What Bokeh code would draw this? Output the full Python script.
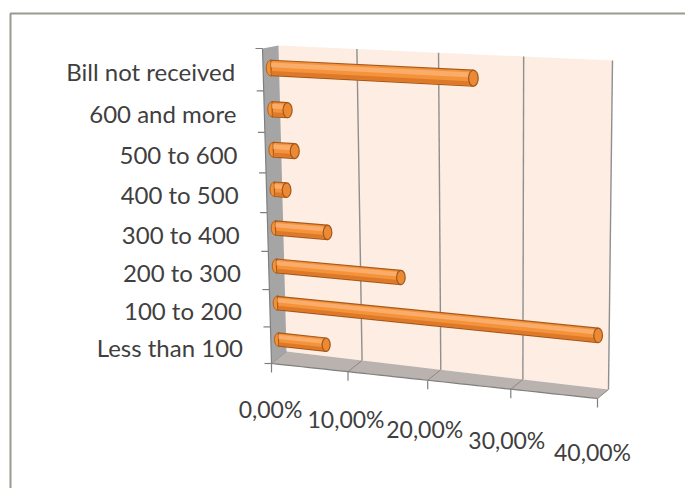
import numpy as np
from bokeh.plotting import figure
from bokeh.models import Range1d
from bokeh.core.properties import value
from bokeh.embed import file_html
from bokeh.resources import INLINE

# ---- data -------------------------------------------------------------
categories = ["Less than 100", "100 to 200", "200 to 300", "300 to 400",
              "400 to 500", "500 to 600", "600 and more", "Bill not received"]
shares = [6.3, 39.4, 16.0, 6.8, 1.6, 2.8, 2.0, 25.0]          # percent
tick_values = [0, 10, 20, 30, 40]
tick_labels = ["0,00%", "10,00%", "20,00%", "30,00%", "40,00%"]

VMAX = 40.0
N = len(categories)

# ---- 3-D box projection --------------------------------------------------
# page position of the box corners for the back (d=1) and front (d=0) planes
BACK = {"v0r0": (286, 351), "v1r0": (608, 389), "v0r1": (278, 45), "v1r1": (612, 60)}
FRONT = {"v0r0": (271, 363), "v1r0": (597, 398), "v0r1": (262, 48), "v1r1": (598, 64)}
PERSP = -0.08


def ease(t):
    t = np.asarray(t, dtype=float)
    return t * (1 + PERSP) / (1 + PERSP * t)


def plane(c, u, w):
    out = []
    for k in (0, 1):
        out.append((1 - u) * (1 - w) * c["v0r0"][k] + u * (1 - w) * c["v1r0"][k]
                   + (1 - u) * w * c["v0r1"][k] + u * w * c["v1r1"][k])
    return out


def proj(v, row, d):
    u = ease(np.asarray(v, dtype=float) / VMAX)
    w = ease(np.asarray(row, dtype=float) / N)
    xb, yb = plane(BACK, u, w)
    xf, yf = plane(FRONT, u, w)
    return xf + d * (xb - xf), yf + d * (yb - yf)


W, H = 685, 488
p = figure(width=W, height=H, x_range=Range1d(0, W), y_range=Range1d(H, 0),
           output_backend="svg", toolbar_location=None,
           x_axis_location=None, y_axis_location=None, min_border=0)
p.grid.visible = False
p.outline_line_color = None
p.background_fill_color = "white"
p.border_fill_color = "white"

# chart area frame
p.quad(left=[10], right=[W + 20], top=[13], bottom=[H + 20],
       fill_color=None, line_color="#979b8f", line_width=2)

# back wall
bx, by = proj([0, VMAX, VMAX, 0], [0, 0, N, N], 1)
p.patch(bx, by, fill_color="#fdede3", line_color=None)

# vertical gridlines on the back wall
for v in tick_values[1:]:
    gx, gy = proj([v, v], [0, N], 1)
    p.line(gx, gy, line_color="#8f8f8f", line_width=1.4)

# floor
fx, fy = proj([0, VMAX, VMAX, 0], [0, 0, 0, 0], np.array([0, 0, 1, 1]))
p.patch(fx, fy, fill_color="#b9b2af", line_color=None)
for v in tick_values:
    lx, ly = proj([v, v], [0, 0], np.array([1, 0]))
    p.line(lx, ly, line_color="#8c8686", line_width=1)

# left wall
wx, wy = proj([0, 0, 0, 0], [0, N, N, 0], np.array([0, 0, 1, 1]))
p.patch(wx, wy, fill_color="#a5a5a5", line_color=None)

# value axis along the front edge of the floor
ax_v = np.linspace(0, VMAX, 41)
axx, axy = proj(ax_v, np.zeros_like(ax_v), 0)
p.line(axx, axy, line_color="#7f7f7f", line_width=1.2)
tv = np.asarray(tick_values, dtype=float)
tx, ty = proj(tv, np.zeros_like(tv), 0)
p.segment(x0=tx, y0=ty, x1=tx, y1=ty + 9, line_color="#7f7f7f", line_width=1.2)
p.text(x=tx - 1 - 0.1 * tv, y=ty + 45 + 0.2 * tv, text=tick_labels,
       text_font=value("Lato"), text_font_size="23px", text_color="#3f3f3f",
       text_align="center", text_baseline="middle")

# category axis along the front edge of the left wall
rows = np.arange(N + 1)
cx, cy = proj(np.zeros(N + 1), rows, 0)
p.line(cx, cy, line_color="#7f7f7f", line_width=1.2)
p.segment(x0=cx - 7, y0=cy, x1=cx, y1=cy, line_color="#7f7f7f", line_width=1.2)
lx, ly = proj(np.zeros(N), np.arange(N) + 0.5, 0)
p.text(x=lx - 28, y=ly + 2, text=categories, text_font=value("Lato"),
       text_font_size="24px", text_color="#3f3f3f",
       text_align="right", text_baseline="middle")

# cylinder bars, half way into the box depth
HW = 0.185
for i, val in enumerate(shares):
    rc = i + 0.5

    def band(top, bottom):
        xs1, ys1 = proj([0, val], [rc + top, rc + top], 0.5)
        xs2, ys2 = proj([val, 0], [rc + bottom, rc + bottom], 0.5)
        return list(xs1) + list(xs2), list(ys1) + list(ys2)

    x0, y0 = proj(0, rc, 0.5)
    x1, y1 = proj(val, rc, 0.5)
    _, ytop = proj(val, rc + HW, 0.5)
    _, ybot = proj(val, rc - HW, 0.5)
    h = float(ybot - ytop)

    p.ellipse(x=[float(x0)], y=[float(y0)], width=h * 0.6, height=h,
              fill_color="#f39137", line_color="#b0621f", line_width=1)
    bxs, bys = band(HW, -HW)
    p.patch(bxs, bys, fill_color="#f5933a", line_color="#a8591b", line_width=1.2)
    hxs, hys = band(HW * 0.72, HW * 0.1)
    p.patch(hxs, hys, fill_color="#fbb377", fill_alpha=0.8, line_color=None)
    sxs, sys_ = band(-HW * 0.4, -HW * 0.9)
    p.patch(sxs, sys_, fill_color="#d57024", fill_alpha=0.75, line_color=None)
    p.ellipse(x=[float(x1)], y=[float(y1)], width=h * 0.6, height=h,
              fill_color="#ec8a34", line_color="#a0561a", line_width=1.2)

open("out.html", "w").write(file_html(p, INLINE))
